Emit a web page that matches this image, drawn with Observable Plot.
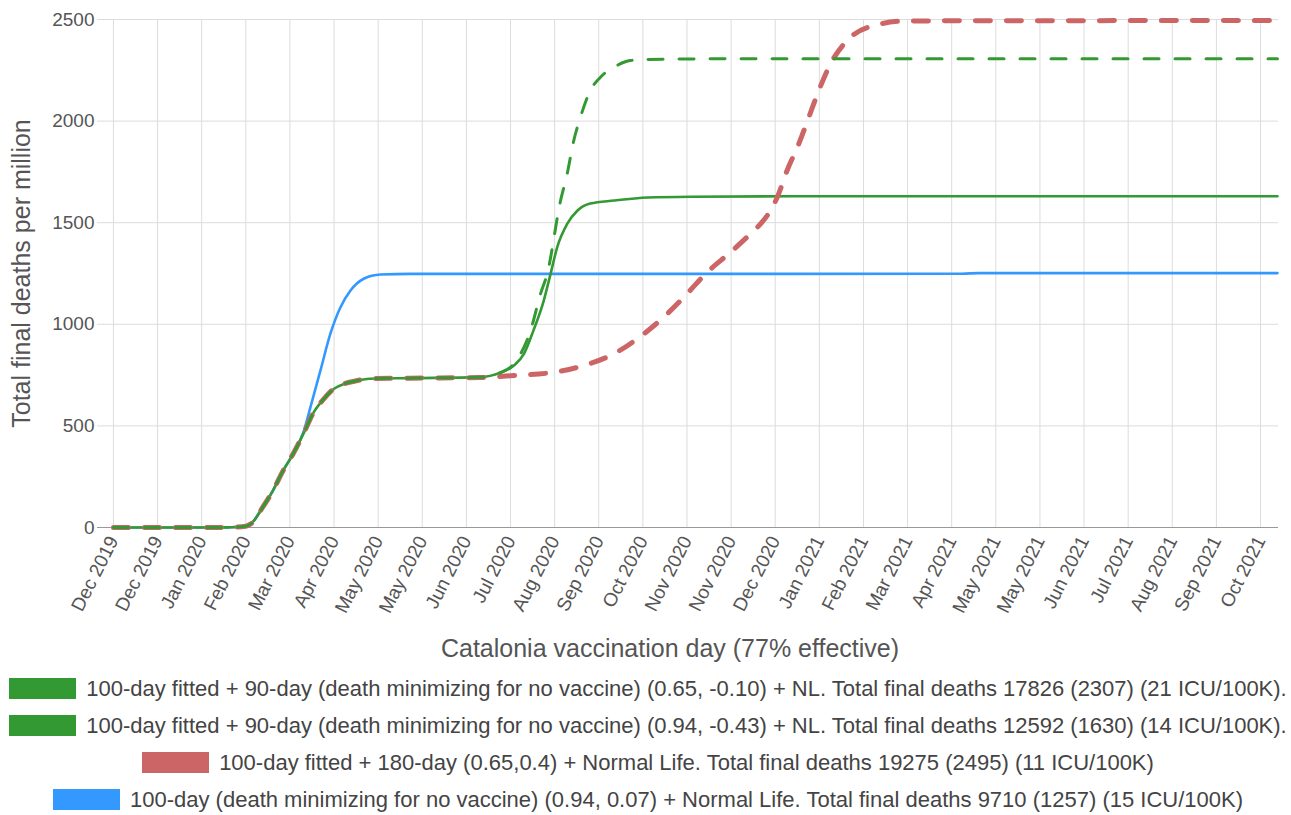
<!DOCTYPE html>
<html><head><meta charset="utf-8">
<script src="https://cdn.jsdelivr.net/npm/d3@7"></script>
<script src="https://cdn.jsdelivr.net/npm/@observablehq/plot@0.6"></script>
<style>
body{margin:0;background:#fff;font-family:"Liberation Sans",Arial,sans-serif;}
#legend{width:1296px;}
.row{display:flex;justify-content:center;align-items:center;height:37px;font-size:22px;color:#444;white-space:nowrap}
.sw{width:67px;height:21px;margin-right:10px}
</style></head><body><div id="chart"></div><div id="legend"></div>
<script>
// x ticks: every 26 "days" from day 0
const xTickLabels = ["Dec 2019","Dec 2019","Jan 2020","Feb 2020","Mar 2020","Apr 2020","May 2020","May 2020","Jun 2020","Jul 2020","Aug 2020","Sep 2020","Oct 2020","Nov 2020","Nov 2020","Dec 2020","Jan 2021","Feb 2021","Mar 2021","Apr 2021","May 2021","May 2021","Jun 2021","Jul 2021","Aug 2021","Sep 2021","Oct 2021"];
const tickStep = 26;
const yTicks = [0, 500, 1000, 1500, 2000, 2500];

// Series: green dashed (0.65, -0.10)
const greenDashedDays = [0,26,52,69,78,81,88,94,100,106,112,118,124,130,136,142,151,175,216,228,236,245.8,251.7,255.6,263.5,267.4,271.3,275.2,281.1,287,294.9,304.7,314.6,340,400,686];
const greenDashedVals = [0,0,0,1,6,18,100,182,280,364,462,567,633,683,707,720,732,735,740,762,806,969,1150,1248,1609,1741,1905,2019,2151,2216,2265,2298,2303,2306,2307,2307];
// Series: green solid (0.94, -0.43)
const greenSolidDays = [0,26,52,69,78,81,88,94,100,106,112,118,124,130,136,142,151,175,216,228,236,242,247.5,253.6,257.6,261.5,267.4,273.5,281,295,315,340,400,686];
const greenSolidVals = [0,0,0,1,6,18,100,182,280,364,462,567,633,683,707,720,732,735,740,762,797,856,969,1117,1248,1379,1494,1560,1594,1609,1624,1628,1630,1630];
// Series: red dashed 180-day (0.65, 0.4)
const redDays = [0,26,52,69,78,81,88,94,100,106,112,118,124,130,136,142,151,175,216,236,259.5,277.2,294.9,312.6,324,336,350,363.7,376,382,387.2,391.2,397,403.9,409.8,415.7,422.6,432.4,448.1,467.8,686];
const redVals = [0,0,0,1,6,18,100,182,280,364,462,567,633,683,707,720,732,735,738,748,764,797,855,953,1033,1132,1257,1355,1450,1500,1560,1625,1757,1888,2019,2151,2282,2397,2470,2493,2495];
// Series: blue 100-day (0.94, 0.07)
const blueDays = [0,26,52,69,78,81,88,94,100,106,112,116.1,122,127.9,133.8,139.7,147.5,157.4,175,300,500,510,686];
const blueVals = [0,0,0,1,6,18,100,182,280,364,470,592,773,955,1084,1166,1224,1245,1248,1248,1249,1252,1252];

const seriesNames = [
  "100-day fitted + 90-day (death minimizing for no vaccine) (0.65, -0.10) + NL. Total final deaths 17826 (2307) (21 ICU/100K).",
  "100-day fitted + 90-day (death minimizing for no vaccine) (0.94, -0.43) + NL. Total final deaths 12592 (1630) (14 ICU/100K).",
  "100-day fitted + 180-day (0.65,0.4) + Normal Life. Total final deaths 19275 (2495) (11 ICU/100K)",
  "100-day (death minimizing for no vaccine) (0.94, 0.07) + Normal Life. Total final deaths 9710 (1257) (15 ICU/100K)"
];
const seriesColors = ["#339933", "#339933", "#cc6666", "#3399ff"];

const toRows = (days, vals) => days.map((d, i) => ({day: d, value: vals[i]}));
const gDash = toRows(greenDashedDays, greenDashedVals);
const gSolid = toRows(greenSolidDays, greenSolidVals);
const red = toRows(redDays, redVals);
const blue = toRows(blueDays, blueVals);
const tickDays = xTickLabels.map((_, i) => i * tickStep);

const chart = Plot.plot({
  width: 1291, height: 670,
  marginLeft: 97, marginRight: 13, marginTop: 19, marginBottom: 143,
  style: {fontFamily: "Liberation Sans, Arial, sans-serif", fontSize: "19px", color: "#555", background: "#fff"},
  x: {domain: [-9.4, 686.6]},
  y: {domain: [0, 2500]},
  marks: [
    Plot.gridX(tickDays, {stroke: "#dcdcdc", strokeOpacity: 1}),
    Plot.gridY(yTicks, {stroke: "#dcdcdc", strokeOpacity: 1}),
    Plot.ruleY([0], {stroke: "#999"}),
    Plot.axisX(tickDays, {tickFormat: (d, i) => xTickLabels[i], tickRotate: -63, tickSize: 0, tickPadding: 10, label: null, fill: "#555"}),
    Plot.axisY(yTicks, {tickSize: 0, tickPadding: 3, label: null, fill: "#555", tickFormat: d => String(d)}),
    Plot.text(["Catalonia vaccination day (77% effective)"], {frameAnchor: "bottom", dy: 121, dx: -18, fontSize: 25, fill: "#555", lineAnchor: "middle", textAnchor: "middle"}),
    Plot.text(["Total final deaths per million"], {frameAnchor: "left", dx: -76, rotate: -90, fontSize: 25, fill: "#555", lineAnchor: "middle", textAnchor: "middle"}),
    Plot.line(blue, {x: "day", y: "value", stroke: seriesColors[3], strokeWidth: 2.6, curve: "monotone-x"}),
    Plot.line(gSolid, {x: "day", y: "value", stroke: seriesColors[1], strokeWidth: 2.6, curve: "monotone-x"}),
    Plot.line(red, {x: "day", y: "value", stroke: seriesColors[2], strokeWidth: 5, strokeDasharray: "15,16", curve: "monotone-x"}),
    Plot.line(gDash, {x: "day", y: "value", stroke: seriesColors[0], strokeWidth: 3, strokeDasharray: "15,16", curve: "monotone-x"})
  ]
});
document.getElementById("chart").appendChild(chart);

const legend = document.getElementById("legend");
seriesNames.forEach((name, i) => {
  const row = document.createElement("div");
  row.className = "row";
  const sw = document.createElement("div");
  sw.className = "sw";
  sw.style.background = seriesColors[i];
  const t = document.createElement("span");
  t.textContent = name;
  row.appendChild(sw); row.appendChild(t);
  legend.appendChild(row);
});
</script></body></html>
